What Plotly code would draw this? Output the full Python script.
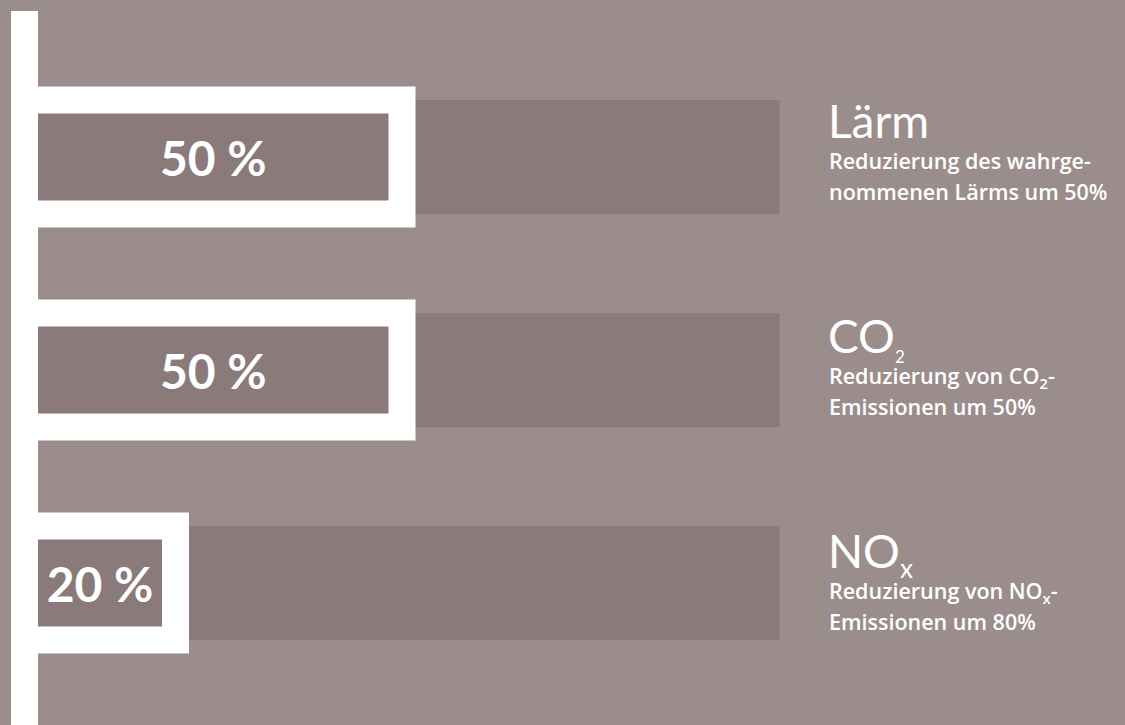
import plotly.graph_objects as go

# Reduction targets (percent) per emission type
categories = ["Lärm", "CO2", "NOx"]
values = [50, 50, 20]
track_max = [100, 100, 100]

titles = [
    "Lärm",
    "CO<sub><span style='font-size:17px'>2</span></sub>",
    "NO<sub><span style='font-size:26px'>x</span></sub>",
]
desc_line1 = [
    "Reduzierung des wahrge-",
    "Reduzierung von CO<sub>2</sub>-",
    "Reduzierung von NO<sub>x</sub>-",
]
desc_line2 = [
    "nommenen Lärms um 50%",
    "Emissionen um 50%",
    "Emissionen um 80%",
]

BG = "#9c8d8d"
DARK = "#8a7a7a"
WHITE = "#ffffff"
FONT = "Lato"
DESC_FONT = "Open Sans"

W, H = 1125, 725
PX_PER_PCT = 7.55      # horizontal scale
X0_PX = 24.5           # pixel position of 0 %
ROW_PX = 213           # row spacing
ROW0_PX = 157          # centre of first row
BAR_PX = 114           # bar thickness
TEXT_DRIFT = [0, 2, 3.5]  # label blocks sit slightly lower on each row

x_range = [-X0_PX / PX_PER_PCT, (W - X0_PX) / PX_PER_PCT]
y_range = [(H - ROW0_PX) / ROW_PX, -ROW0_PX / ROW_PX]
bar_w = BAR_PX / ROW_PX

fig = go.Figure()

# full-length track behind each bar
fig.add_trace(go.Bar(
    y=categories, x=track_max, orientation="h", width=bar_w,
    marker=dict(color=DARK, line=dict(width=0)),
    hoverinfo="skip", showlegend=False,
))

# value bars with a thick white frame
fig.add_trace(go.Bar(
    y=categories, x=values, orientation="h", width=bar_w,
    marker=dict(color=DARK, line=dict(color=WHITE, width=27)),
    texttemplate="%{x} %", textposition="inside", insidetextanchor="middle",
    constraintext="none",
    textfont=dict(family=FONT, size=48, color=WHITE, weight="bold"),
    hoverinfo="skip", showlegend=False,
))

annotations = []
for cat, t, l1, l2, d in zip(categories, titles, desc_line1, desc_line2, TEXT_DRIFT):
    annotations.append(dict(
        x=826 / W, xref="paper", y=cat, yref="y", text=t,
        xanchor="left", yanchor="top", yshift=66 - d,
        showarrow=False, align="left",
        font=dict(family=FONT, size=46, color=WHITE),
    ))
    annotations.append(dict(
        x=827 / W, xref="paper", y=cat, yref="y", text=l1,
        xanchor="left", yanchor="top", yshift=13 - d,
        showarrow=False, align="left",
        font=dict(family=DESC_FONT, size=21.5, color=WHITE, weight=600),
    ))
    annotations.append(dict(
        x=827 / W, xref="paper", y=cat, yref="y", text=l2,
        xanchor="left", yanchor="top", yshift=-18 - d,
        showarrow=False, align="left",
        font=dict(family=DESC_FONT, size=21.5, color=WHITE, weight=600),
    ))

fig.update_layout(
    width=W, height=H,
    margin=dict(l=0, r=0, t=0, b=0),
    paper_bgcolor=BG, plot_bgcolor=BG,
    barmode="overlay",
    xaxis=dict(range=x_range, visible=False, fixedrange=True),
    yaxis=dict(range=y_range, visible=False, fixedrange=True,
               type="category", categoryorder="array", categoryarray=categories),
    annotations=annotations,
    shapes=[dict(
        type="line", xref="x", yref="paper",
        x0=0, x1=0, y0=-0.02, y1=1 - 11 / H,
        line=dict(color=WHITE, width=27),
    )],
    showlegend=False,
)

fig.write_html("out.html", config={"displayModeBar": False})
